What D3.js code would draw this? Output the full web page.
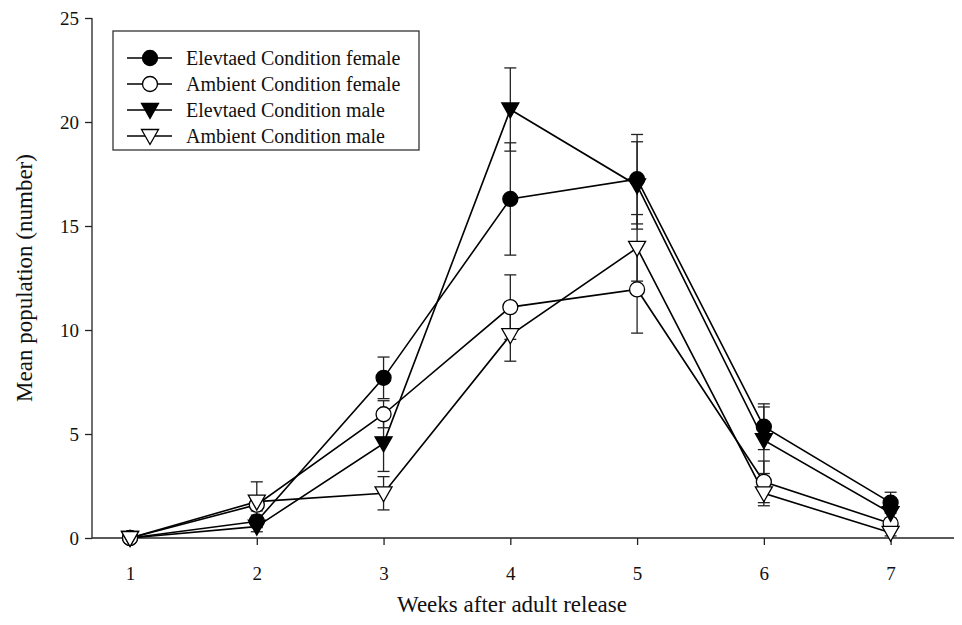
<!DOCTYPE html>
<html>
<head>
<meta charset="utf-8">
<script src="https://cdn.jsdelivr.net/npm/d3@7"></script>
<style>
  body { margin: 0; background: #fff; }
  text { font-family: "Liberation Serif", "DejaVu Serif", serif; fill: #111; }
</style>
</head>
<body>
<div id="chart"></div>
<script>
// data
var weeks = [1, 2, 3, 4, 5, 6, 7];
var seriesNames = ["Elevtaed Condition female", "Ambient Condition female", "Elevtaed Condition male", "Ambient Condition male"];
var elevFemale = [0, 0.8, 7.7, 16.3, 17.25, 5.35, 1.7];
var elevFemaleErr = [0, 0.3, 1.0, 2.7, 2.15, 1.1, 0.5];
var ambFemale = [0, 1.6, 5.95, 11.1, 11.95, 2.7, 0.7];
var ambFemaleErr = [0, 0.3, 0.65, 1.55, 2.1, 1.0, 0.2];
var elevMale = [0, 0.55, 4.55, 20.6, 16.95, 4.7, 1.2];
var elevMaleErr = [0, 0.25, 1.35, 2.0, 2.1, 1.6, 0.25];
var ambMale = [0, 1.75, 2.15, 9.75, 13.95, 2.15, 0.25];
var ambMaleErr = [0, 0.95, 0.8, 1.25, 1.6, 0.6, 0.15];
var yTicks = [0, 5, 10, 15, 20, 25];

var series = [
    {name: seriesNames[0], values: elevFemale, err: elevFemaleErr, shape: "circle", filled: true},
    {name: seriesNames[1], values: ambFemale, err: ambFemaleErr, shape: "circle", filled: false},
    {name: seriesNames[2], values: elevMale, err: elevMaleErr, shape: "tri", filled: true},
    {name: seriesNames[3], values: ambMale, err: ambMaleErr, shape: "tri", filled: false}
];

var svg = d3.select("#chart").append("svg")
    .attr("width", 962)
    .attr("height", 625);

var x = d3.scaleLinear().domain([0.7, 7.5]).range([92, 954]);
var y = d3.scaleLinear().domain([0, 25]).range([538, 18]);

// axes
svg.append("g")
    .attr("transform", "translate(0,538)")
    .call(d3.axisBottom(x).tickValues(weeks).tickSize(7).tickPadding(22).tickFormat(d3.format("d")))
    .call(g => g.selectAll("text").style("font-size", "19px").style("font-family", "Liberation Serif"))
    .call(g => g.select(".domain").attr("d", "M92,0H954"));

svg.append("g")
    .attr("transform", "translate(92,0)")
    .call(d3.axisLeft(y).tickValues(yTicks).tickSize(7).tickPadding(6))
    .call(g => g.selectAll("text").style("font-size", "19px").style("font-family", "Liberation Serif"))
    .call(g => g.select(".domain").attr("d", "M0,18V538"));

svg.selectAll(".tick line, .domain").attr("stroke", "#222").attr("stroke-width", 1.3);

svg.append("text")
    .attr("x", 512).attr("y", 612)
    .attr("text-anchor", "middle")
    .style("font-size", "23px")
    .text("Weeks after adult release");

svg.append("text")
    .attr("transform", "translate(32,278) rotate(-90)")
    .attr("text-anchor", "middle")
    .style("font-size", "23px")
    .text("Mean population (number)");

var line = d3.line()
    .x((d, i) => x(weeks[i]))
    .y(d => y(d));

function marker(g, s) {
    if (s.shape == "circle") {
        g.append("circle").attr("r", 7.5);
    } else {
        g.append("path").attr("d", "M-8.5,-6.5L8.5,-6.5L0,8.5Z");
    }
    g.selectAll("circle, path")
        .attr("fill", s.filled ? "#000" : "#fff")
        .attr("stroke", "#000")
        .attr("stroke-width", 1.3);
}

// lines
series.forEach(s => {
    svg.append("path")
        .datum(s.values)
        .attr("d", line)
        .attr("fill", "none")
        .attr("stroke", "#000")
        .attr("stroke-width", 1.6);
});

// error bars
series.forEach(s => {
    var eb = svg.append("g").attr("stroke", "#222").attr("stroke-width", 1.3);
    s.values.forEach((v, i) => {
        if (s.err[i] == 0) return;
        var cx = x(weeks[i]);
        eb.append("line").attr("x1", cx).attr("x2", cx)
            .attr("y1", y(v - s.err[i])).attr("y2", y(v + s.err[i]));
        [v - s.err[i], v + s.err[i]].forEach(e => {
            eb.append("line").attr("x1", cx - 6).attr("x2", cx + 6)
                .attr("y1", y(e)).attr("y2", y(e));
        });
    });
});

// markers
series.forEach(s => {
    s.values.forEach((v, i) => {
        var g = svg.append("g").attr("transform", `translate(${x(weeks[i])},${y(v)})`);
        marker(g, s);
    });
});

// legend
var legend = svg.append("g");
legend.append("rect")
    .attr("x", 113).attr("y", 31)
    .attr("width", 306).attr("height", 119)
    .attr("fill", "#fff")
    .attr("stroke", "#333")
    .attr("stroke-width", 1.3);

series.forEach((s, i) => {
    var ly = 58 + i * 26;
    legend.append("line")
        .attr("x1", 127).attr("x2", 172)
        .attr("y1", ly).attr("y2", ly)
        .attr("stroke", "#000").attr("stroke-width", 1.6);
    var g = legend.append("g").attr("transform", `translate(150,${ly})`);
    marker(g, s);
    legend.append("text")
        .attr("x", 186).attr("y", ly + 6.5)
        .style("font-size", "20px")
        .text(s.name);
});
</script>
</body>
</html>
